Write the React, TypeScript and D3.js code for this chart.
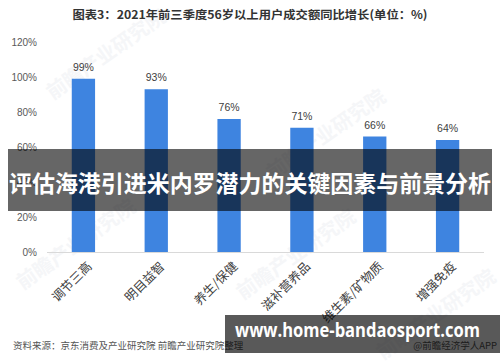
import React from "react";
import * as d3 from "d3";

const categories = ["调节三高", "明目益智", "养生/保健", "滋补营养品", "维生素/矿物质", "增强免疫"];
const values = [99, 93, 76, 71, 66, 64];
const yTicks = [0, 20, 40, 60, 80, 100, 120];
const title = "图表3：2021年前三季度56岁以上用户成交额同比增长(单位：%)";
const source = "资料来源：京东消费及产业研究院 前瞻产业研究院整理";
const credit = "@前瞻经济学人APP";
const banner = "评估海港引进米内罗潜力的关键因素与前景分析";
const site = "www.home-bandaosport.com";

const W = 500;
const H = 362;

export default function App() {
  const x = d3.scaleBand<string>().domain(categories).range([47, 484]).paddingInner(0.68).paddingOuter(0.34);
  const y = d3.scaleLinear().domain([0, 120]).range([252, 42]);
  const font = "'Liberation Sans', 'Noto Sans CJK SC', sans-serif";
  return (
    <svg width={W} height={H} style={{ position: "absolute", left: 0, top: 0, background: "#fff" }} fontFamily={font}>
      <rect x={0} y={0} width={W} height={H} fill="#fff" />
      {/* faint watermarks */}
      {[[110, 60], [330, 140], [80, 250], [300, 260], [440, 320]].map(([wx, wy], i) => (
        <text key={i} x={wx} y={wy} transform={`rotate(-35 ${wx} ${wy})`} fontSize={20} fontWeight="bold" fill="#f5f6f8" textAnchor="middle" fontFamily="'Noto Sans CJK SC', sans-serif">前瞻产业研究院</text>
      ))}
      <text x={250} y={19} textAnchor="middle" fontSize={11.5} fontWeight="bold" fill="#333" textLength={355} lengthAdjust="spacingAndGlyphs" fontFamily="'Noto Sans CJK SC', sans-serif">{title}</text>
      {yTicks.map((t) => (
        <text key={t} x={37} y={y(t)} dy="0.35em" textAnchor="end" fontSize={10} fill="#595959">{t}%</text>
      ))}
      <line x1={47} x2={484} y1={y(0) + 0.5} y2={y(0) + 0.5} stroke="#d9d9d9" strokeWidth={1} />
      {categories.map((c, i) => {
        const cx = (x(c) as number) + x.bandwidth() / 2;
        return (
          <g key={c}>
            <rect x={x(c)} y={y(values[i])} width={x.bandwidth()} height={y(0) - y(values[i])} fill="#3e84e0" />
            <text x={cx} y={y(values[i]) - 8} textAnchor="middle" fontSize={10.5} fill="#404040">{values[i]}%</text>
            <text
              x={cx + 3}
              y={261}
              textAnchor="end"
              fontSize={12.5}
              fill="#404040"
              fontFamily="'Noto Sans CJK SC', sans-serif"
              transform={`rotate(-45 ${cx + 3} 261)`}
              dy="0.7em"
            >{c}</text>
          </g>
        );
      })}
      <text x={13} y={349} fontSize={9.5} fill="#555" fontFamily="'Noto Sans CJK SC', sans-serif">{source}</text>
      <text x={497} y={349} textAnchor="end" fontSize={9.5} fill="#555" fontFamily="'Noto Sans CJK SC', sans-serif">{credit}</text>
      <rect x={8} y={149} width={484} height={62} fill="rgba(0,0,0,0.6)" />
      <text x={250} y={192} textAnchor="middle" fontSize={23} fontWeight="bold" fill="#fff" textLength={482} lengthAdjust="spacingAndGlyphs" fontFamily="'Noto Sans CJK SC', sans-serif">{banner}</text>
      <rect x={225} y={315} width={275} height={38} fill="rgba(0,0,0,0.65)" />
      <text x={235} y={337} fontSize={20} fontWeight="bold" fill="#fff" textLength={245} lengthAdjust="spacingAndGlyphs" fontFamily="'Open Sans', 'DejaVu Sans', sans-serif">{site}</text>
    </svg>
  );
}
